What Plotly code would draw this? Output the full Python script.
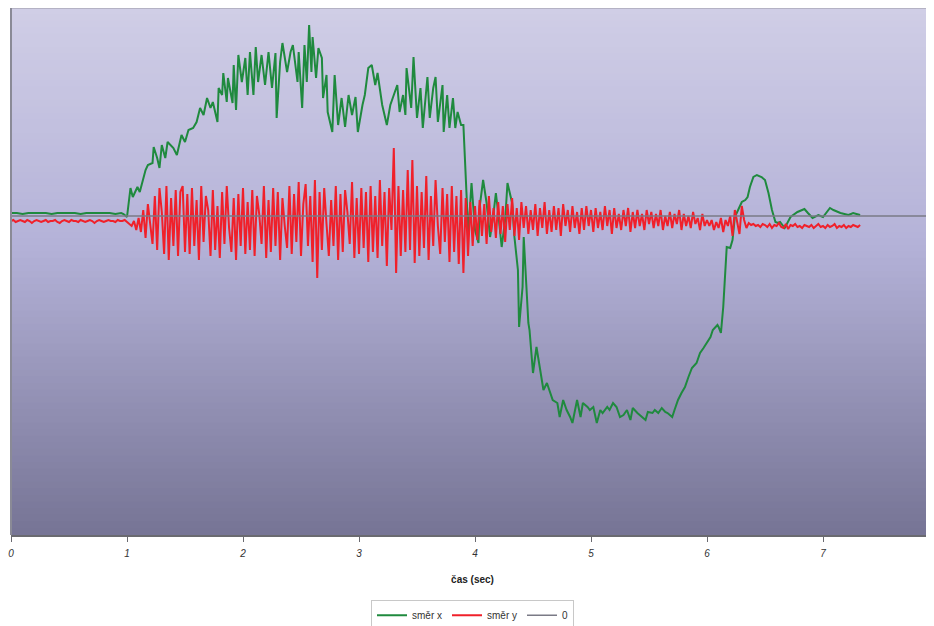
import plotly.graph_objects as go

# ---------------- data ----------------
# time axis (seconds)
x_ticks = [0, 1, 2, 3, 4, 5, 6, 7, 8]
x_tick_labels = ["0", "1", "2", "3", "4", "5", "6", "7", "8"]

# směr x  (irregularly read samples: time [s], value [arb. units])
green_t = [0.00, 0.05, 0.10, 0.15, 0.20, 0.25, 0.30, 0.35, 0.40, 0.45,
           0.50, 0.55, 0.60, 0.65, 0.70, 0.75, 0.80, 0.85, 0.90, 0.95,
           0.97, 1.00, 1.03, 1.05, 1.09, 1.11, 1.16, 1.18, 1.22, 1.23,
           1.26, 1.28, 1.30, 1.33, 1.35, 1.40, 1.43, 1.47, 1.50, 1.53,
           1.57, 1.60, 1.63, 1.66, 1.69, 1.72, 1.74, 1.78, 1.79, 1.82,
           1.83, 1.86, 1.87, 1.91, 1.92, 1.94, 1.96, 1.99, 2.02, 2.04,
           2.06, 2.09, 2.11, 2.13, 2.16, 2.19, 2.22, 2.25, 2.28, 2.29,
           2.32, 2.34, 2.38, 2.41, 2.43, 2.47, 2.48, 2.51, 2.53, 2.55,
           2.57, 2.59, 2.60, 2.63, 2.65, 2.68, 2.69, 2.72, 2.73, 2.77,
           2.79, 2.82, 2.85, 2.88, 2.91, 2.94, 2.97, 2.99, 3.03, 3.05,
           3.08, 3.11, 3.14, 3.16, 3.20, 3.24, 3.27, 3.29, 3.33, 3.35,
           3.38, 3.40, 3.41, 3.45, 3.47, 3.50, 3.53, 3.55, 3.59, 3.61,
           3.64, 3.66, 3.68, 3.72, 3.73, 3.76, 3.78, 3.81, 3.83, 3.85,
           3.88, 3.90, 3.91, 3.93, 3.94, 3.97, 4.00, 4.03, 4.04, 4.07,
           4.10, 4.13, 4.16, 4.18, 4.20, 4.23, 4.26, 4.28, 4.32, 4.34,
           4.37, 4.38, 4.41, 4.42, 4.44, 4.46, 4.47, 4.50, 4.53, 4.56,
           4.59, 4.62, 4.65, 4.67, 4.71, 4.73, 4.76, 4.79, 4.82, 4.84,
           4.88, 4.91, 4.93, 4.97, 4.99, 5.02, 5.05, 5.08, 5.10, 5.14,
           5.16, 5.19, 5.22, 5.25, 5.28, 5.31, 5.34, 5.36, 5.40, 5.44,
           5.47, 5.49, 5.53, 5.55, 5.58, 5.61, 5.64, 5.66, 5.70, 5.72,
           5.75, 5.78, 5.81, 5.84, 5.87, 5.91, 5.94, 5.97, 6.00, 6.03,
           6.05, 6.09, 6.10, 6.12, 6.14, 6.16, 6.17, 6.20, 6.22, 6.24,
           6.27, 6.30, 6.33, 6.35, 6.37, 6.40, 6.43, 6.47, 6.50, 6.53,
           6.56, 6.59, 6.61, 6.63, 6.67, 6.72, 6.78, 6.84, 6.87, 6.91,
           6.96, 7.00, 7.06, 7.09, 7.15, 7.22, 7.26, 7.32]
green_v = [3, 3, 2, 3, 3, 3, 3, 2, 3, 3,
           3, 3, 2, 3, 3, 3, 3, 3, 2, 3,
           2, -1, 28, 19, 29, 24, 46, 51, 53, 69,
           58, 48, 71, 58, 74, 68, 61, 81, 74, 86,
           88, 94, 108, 101, 118, 108, 114, 94, 128, 121,
           143, 114, 138, 113, 151, 106, 161, 134, 158, 121,
           164, 121, 169, 134, 161, 131, 164, 128, 163, 98,
           154, 173, 144, 164, 171, 134, 164, 108, 171, 134,
           191, 144, 179, 138, 168, 158, 118, 141, 104, 84,
           141, 91, 118, 89, 121, 101, 119, 84, 111, 121,
           148, 151, 131, 143, 111, 91, 111, 118, 131, 104,
           121, 101, 148, 108, 159, 98, 128, 88, 139, 98,
           128, 139, 94, 131, 84, 121, 88, 118, 88, 104,
           91, 91, 68, 14, -21, 33, -14, -27, 9, 36,
           13, -21, 3, 23, 3, -31, -4, 33, 13, -21,
           -54, -111, -71, -21, -64, -107, -114, -157, -131, -154,
           -174, -167, -177, -184, -187, -201, -184, -194, -201, -207,
           -184, -201, -187, -191, -194, -191, -207, -194, -197, -191,
           -194, -187, -191, -201, -199, -194, -204, -192, -197, -201,
           -204, -196, -197, -194, -197, -192, -196, -197, -201, -194,
           -184, -177, -171, -161, -152, -147, -137, -132, -127, -121,
           -114, -109, -111, -117, -91, -51, -31, -32, -24, -1,
           6, 14, 16, 19, 29, 39, 41, 39, 36, 23,
           6, -6, -7, -6, -12, -1, 4, 7, 3, -2,
           1, -1, 8, 6, 3, 1, 3, 1]

# směr y  (samples every 0.02 s from 0.00 s to 7.32 s)
red_step = 0.02
red_v = (
    # 0.00 - 0.98
    [-5, -4, -6, -5, -4, -5, -6, -4, -5, -7, -5, -4, -5, -6, -5, -4, -6, -5, -5, -4, -6, -7, -5, -4, -5,
     -6, -4, -5, -5, -6, -4, -5, -6, -5, -4, -5, -7, -5, -4, -5, -6, -5, -4, -5, -5, -6, -4, -5, -5, -4]
    # 1.00 - 1.48
    + [-6, -8, -10, -5, -14, -2, -16, 6, -22, 12, -8, -28, 20, -34, 28, 4, -38, 30, -44, 18, -30, 26, -40, 24, 30]
    # 1.50 - 1.98
    + [-36, 22, -38, 28, -30, 16, -44, 30, -26, 20, 6, -40, 26, -34, 10, -42, 24, -28, 30, -12, -36, 18, -44, 22, -30]
    # 2.00 - 2.48
    + [28, -38, 14, -34, 26, -40, 20, 2, -28, 30, -42, 16, -36, 28, -30, 24, -44, 18, -10, -32, 30, -38, 22, -26, 34]
    # 2.50 - 2.98
    + [-40, 12, 32, -30, 20, -46, 36, -62, 24, -34, 28, -8, -40, 16, -30, 30, -44, 22, -36, 26, 4, -28, 34, -42, 18]
    # 3.00 - 3.48
    + [-38, 28, -32, 24, -46, 30, -36, 20, -42, 36, -30, 24, -50, 28, -14, 68, -57, 30, -40, 26, -36, 46, -34, 56, -47]
    # 3.50 - 3.98
    + [30, -40, 24, -32, 40, -44, 20, -30, 36, -10, -38, 28, -26, 22, -46, 30, -36, 20, -48, 26, -57, 18, -40, 14, -30]
    # 4.00 - 4.48
    + [10, -24, 16, -20, 12, -28, 20, -16, 8, -22, 14, -18, 10, -26, 12, -14, 18, -20, 8, -24, 14, -12, 10, -18, 6]
    # 4.50 - 4.98
    + [-14, 12, -20, 8, -12, 14, -18, 6, -16, 10, -14, 8, -20, 12, -10, 6, -16, 10, -12, 4, -18, 8, -14, 10, -10]
    # 5.00 - 5.48
    + [6, -16, 8, -12, 4, -14, 10, -10, 6, -18, 8, -12, 2, -14, 6, -10, 8, -16, 4, -12, 6, -10, 2, -14, 6]
    # 5.50 - 5.98
    + [-8, 4, -12, 2, -10, 6, -14, 0, -10, 4, -12, 2, -8, 6, -14, 2, -10, 0, -12, 4, -8, -2, -14, 2, -10]
    # 6.00 - 6.48
    + [-4, -10, -4, -14, -6, -12, -2, -16, -4, -10, 0, -20, 6, -8, -18, 10, -4, -12, -7, -9, -8, -10, -9, -11, -8]
    # 6.50 - 6.98
    + [-9, -11, -8, -12, -9, -10, -7, -11, -12, -8, -13, -9, -10, -8, -11, -10, -12, -9, -10, -11, -9, -12, -10, -8, -11]
    # 7.00 - 7.32
    + [-10, -12, -9, -11, -10, -8, -12, -10, -11, -9, -12, -10, -11, -9, -10, -11, -9]
)
red_t = [round(i * red_step, 2) for i in range(len(red_v))]

# reference line "0"
zero_t = [0, 8]
zero_v = [0, 0]

series_names = ["směr x", "směr y", "0"]

# ---------------- figure ----------------
# the page body adds an 8 px offset, so the figure is sized to fit the window
W, H = 926, 618
ML, MR, MT, MB = 3, 0, 0, 91
px_per_sec = 116.0
x_max = (W - ML - MR) / px_per_sec
y_min, y_max = -319, 208

fig = go.Figure()

# vertical gradient background built from bands
stops = [(0.0, (208, 206, 230)), (0.45, (180, 178, 216)), (1.0, (118, 116, 149))]  # 0 = top

def col_at(f):
    for (a, ca), (b, cb) in zip(stops[:-1], stops[1:]):
        if a <= f <= b:
            r = (f - a) / (b - a)
            return tuple(int(round(ca[k] + (cb[k] - ca[k]) * r)) for k in range(3))
    return stops[-1][1]

N = 80
for i in range(N):
    f = (i + 0.5) / N
    c = col_at(f)
    fig.add_shape(type="rect", xref="paper", yref="paper",
                  x0=0, x1=1, y0=1 - (i + 1) / N - 0.001, y1=1 - i / N + 0.001,
                  fillcolor="rgb(%d,%d,%d)" % c, line_width=0, layer="below")

# top light border and left border
fig.add_shape(type="line", xref="paper", yref="paper", x0=0, x1=1, y0=1, y1=1,
              line=dict(color="#b4b2c4", width=2), layer="above")
fig.add_shape(type="line", xref="paper", yref="paper", x0=0, x1=0, y0=0, y1=1,
              line=dict(color="#8a8a96", width=2), layer="above")

fig.add_trace(go.Scatter(x=green_t, y=green_v, mode="lines", name=series_names[0],
                         line=dict(color="#1f8a3e", width=2)))
fig.add_trace(go.Scatter(x=red_t, y=red_v, mode="lines", name=series_names[1],
                         line=dict(color="#f0202a", width=2)))
fig.add_trace(go.Scatter(x=zero_t, y=zero_v, mode="lines", name=series_names[2],
                         line=dict(color="#7a7a86", width=1.5)))

fig.update_layout(
    width=W, height=H,
    margin=dict(l=ML, r=MR, t=MT, b=MB, autoexpand=False),
    paper_bgcolor="white", plot_bgcolor="rgba(0,0,0,0)",
    font=dict(family="Liberation Sans, Arial, sans-serif", size=10, color="#222"),
    showlegend=True,
    legend=dict(orientation="h", x=0.5, xanchor="center", y=-0.123, yanchor="top",
                bordercolor="#c8c8c8", borderwidth=1, bgcolor="white",
                font=dict(size=10, color="#333"), itemwidth=30,
                traceorder="normal"),
    xaxis=dict(range=[0, x_max], tickmode="array", tickvals=x_ticks, ticktext=x_tick_labels,
               showgrid=False, zeroline=False, showline=True, linecolor="#6a6a70", linewidth=1.5,
               ticks="outside", ticklen=5, tickcolor="#6a6a70", automargin=False,
               ticklabelstandoff=3,
               tickfont=dict(size=10, color="#333", style="italic"),
               title=dict(text="čas (sec)", font=dict(size=10, color="#222", weight="bold"),
                          standoff=18)),
    yaxis=dict(range=[y_min, y_max], showgrid=False, zeroline=False, showline=False,
               showticklabels=False, ticks="", automargin=False),
)

fig.write_html("out.html")
